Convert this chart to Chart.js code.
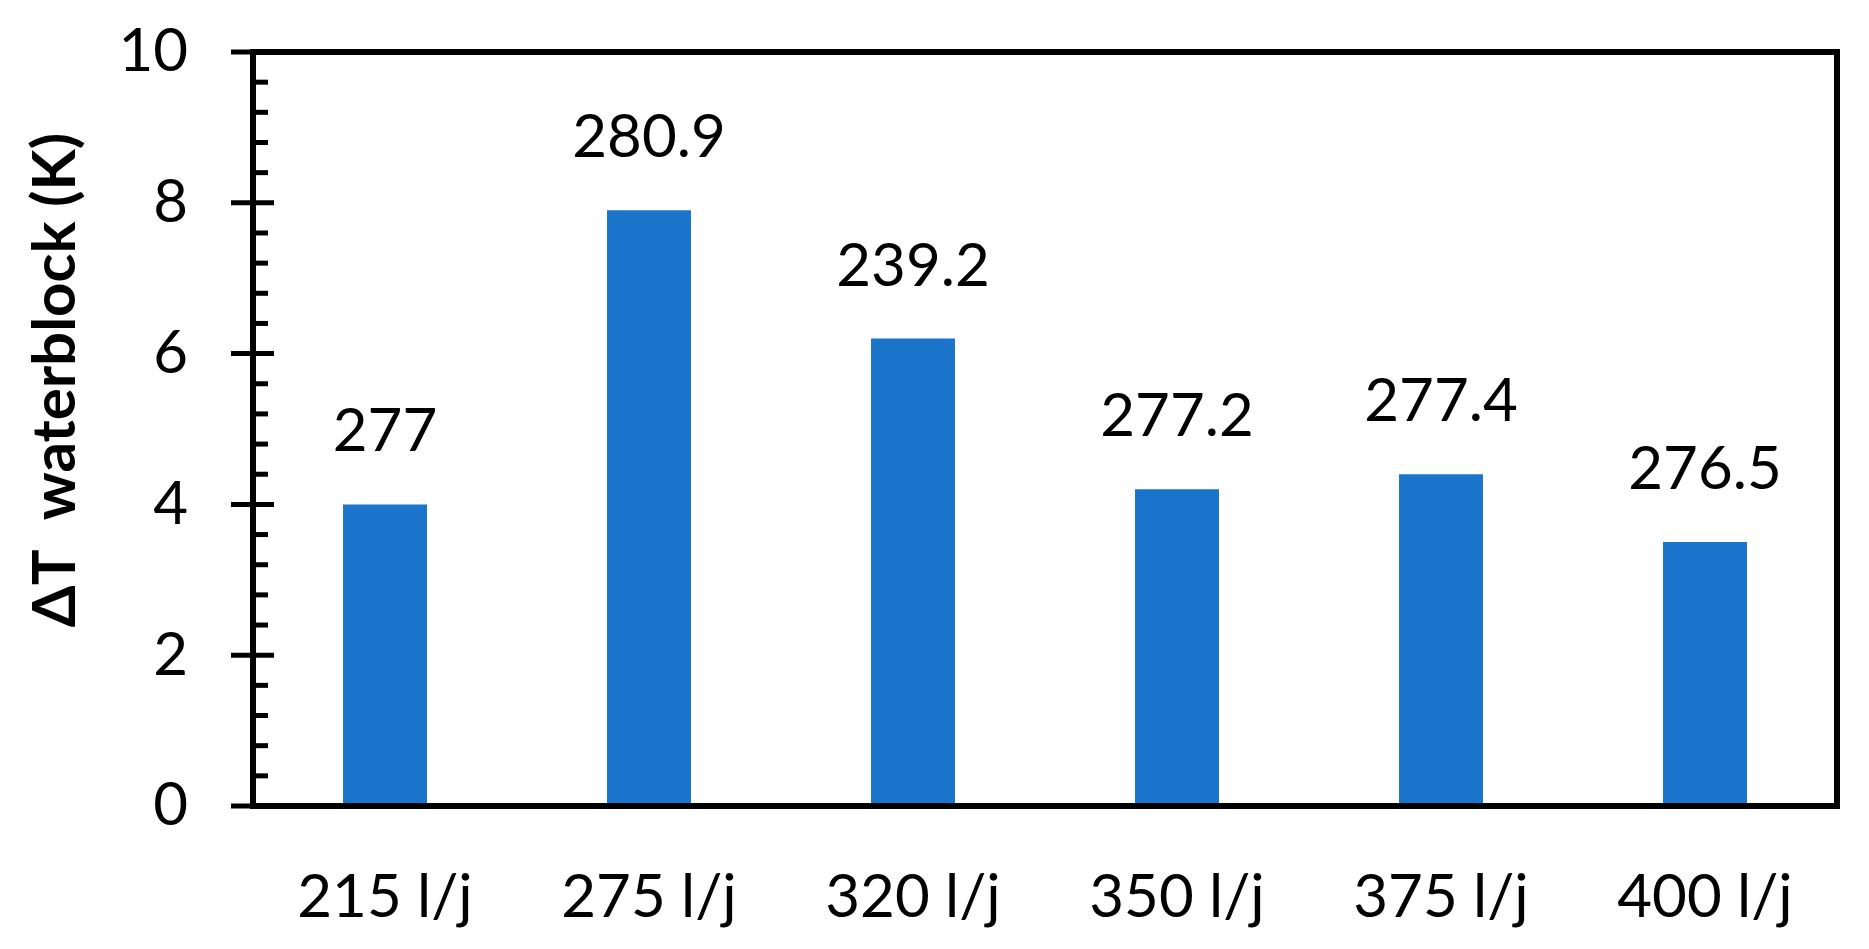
<!DOCTYPE html>
<html>
<head>
<meta charset="utf-8">
<script src="https://cdn.jsdelivr.net/npm/chart.js@4/dist/chart.umd.min.js"></script>
<style>
  html, body { margin: 0; padding: 0; background: #ffffff; }
  #wrap { width: 1869px; height: 949px; }
</style>
</head>
<body>
<div id="wrap"><canvas id="c" width="1869" height="949"></canvas></div>
<script>
const categories = ['215 l/j', '275 l/j', '320 l/j', '350 l/j', '375 l/j', '400 l/j'];
const deltaT = [4.0, 7.9, 6.2, 4.2, 4.4, 3.5];
const barLabels = ['277', '280.9', '239.2', '277.2', '277.4', '276.5'];
const yTitle = 'ΔT  waterblock (K)';

const FONT = 'Lato, "Open Sans", sans-serif';

const decorPlugin = {
  id: 'decor',
  afterDatasetsDraw(chart) {
    const ctx = chart.ctx;
    const ca = chart.chartArea;
    const y = chart.scales.y;
    ctx.save();
    // frame
    ctx.strokeStyle = '#000';
    ctx.lineWidth = 6;
    ctx.strokeRect(ca.left, ca.top, ca.right - ca.left, ca.bottom - ca.top);
    // ticks
    ctx.lineWidth = 5;
    for (let i = 0; i <= 25; i++) {
      const v = i * 0.4;
      const py = y.getPixelForValue(v);
      ctx.beginPath();
      if (i % 5 === 0) {
        ctx.moveTo(ca.left - 22, py);
        ctx.lineTo(ca.left + 21, py);
      } else {
        ctx.moveTo(ca.left, py);
        ctx.lineTo(ca.left + 15, py);
      }
      ctx.stroke();
    }
    // bar value labels
    const meta = chart.getDatasetMeta(0);
    ctx.fillStyle = '#000';
    ctx.font = '60px ' + FONT;
    ctx.textAlign = 'center';
    ctx.textBaseline = 'alphabetic';
    meta.data.forEach((bar, i) => {
      ctx.fillText(barLabels[i], bar.x, bar.y - 53);
    });
    // y axis title
    ctx.font = 'bold 60px ' + FONT;
    ctx.translate(56, 380);
    ctx.rotate(-Math.PI / 2);
    ctx.textAlign = 'center';
    ctx.textBaseline = 'middle';
    ctx.fillText(yTitle, 0, 0);
    ctx.restore();
  }
};

new Chart(document.getElementById('c'), {
  type: 'bar',
  data: {
    labels: categories,
    datasets: [{
      data: deltaT,
      backgroundColor: '#1a74c9',
      borderWidth: 0,
      categoryPercentage: 1.0,
      barPercentage: 0.318
    }]
  },
  options: {
    responsive: false,
    devicePixelRatio: 1,
    animation: false,
    layout: { padding: { left: 0, top: 52, right: 32, bottom: 0 } },
    plugins: { legend: { display: false }, tooltip: { enabled: false }, title: { display: false } },
    scales: {
      x: {
        grid: { display: false, drawTicks: false },
        border: { display: false },
        ticks: { color: '#000', font: { family: FONT, size: 60 }, padding: 56, maxRotation: 0, autoSkip: false },
        afterFit(s) { s.height = 949 - 806; s.paddingLeft = 0; s.paddingRight = 0; }
      },
      y: {
        min: 0, max: 10,
        grid: { display: false, drawTicks: false },
        border: { display: false },
        ticks: { stepSize: 2, color: '#000', font: { family: FONT, size: 60 }, padding: 65 },
        afterFit(s) { s.width = 253; s.paddingTop = 0; s.paddingBottom = 0; }
      }
    }
  },
  plugins: [decorPlugin]
});
</script>
</body>
</html>
